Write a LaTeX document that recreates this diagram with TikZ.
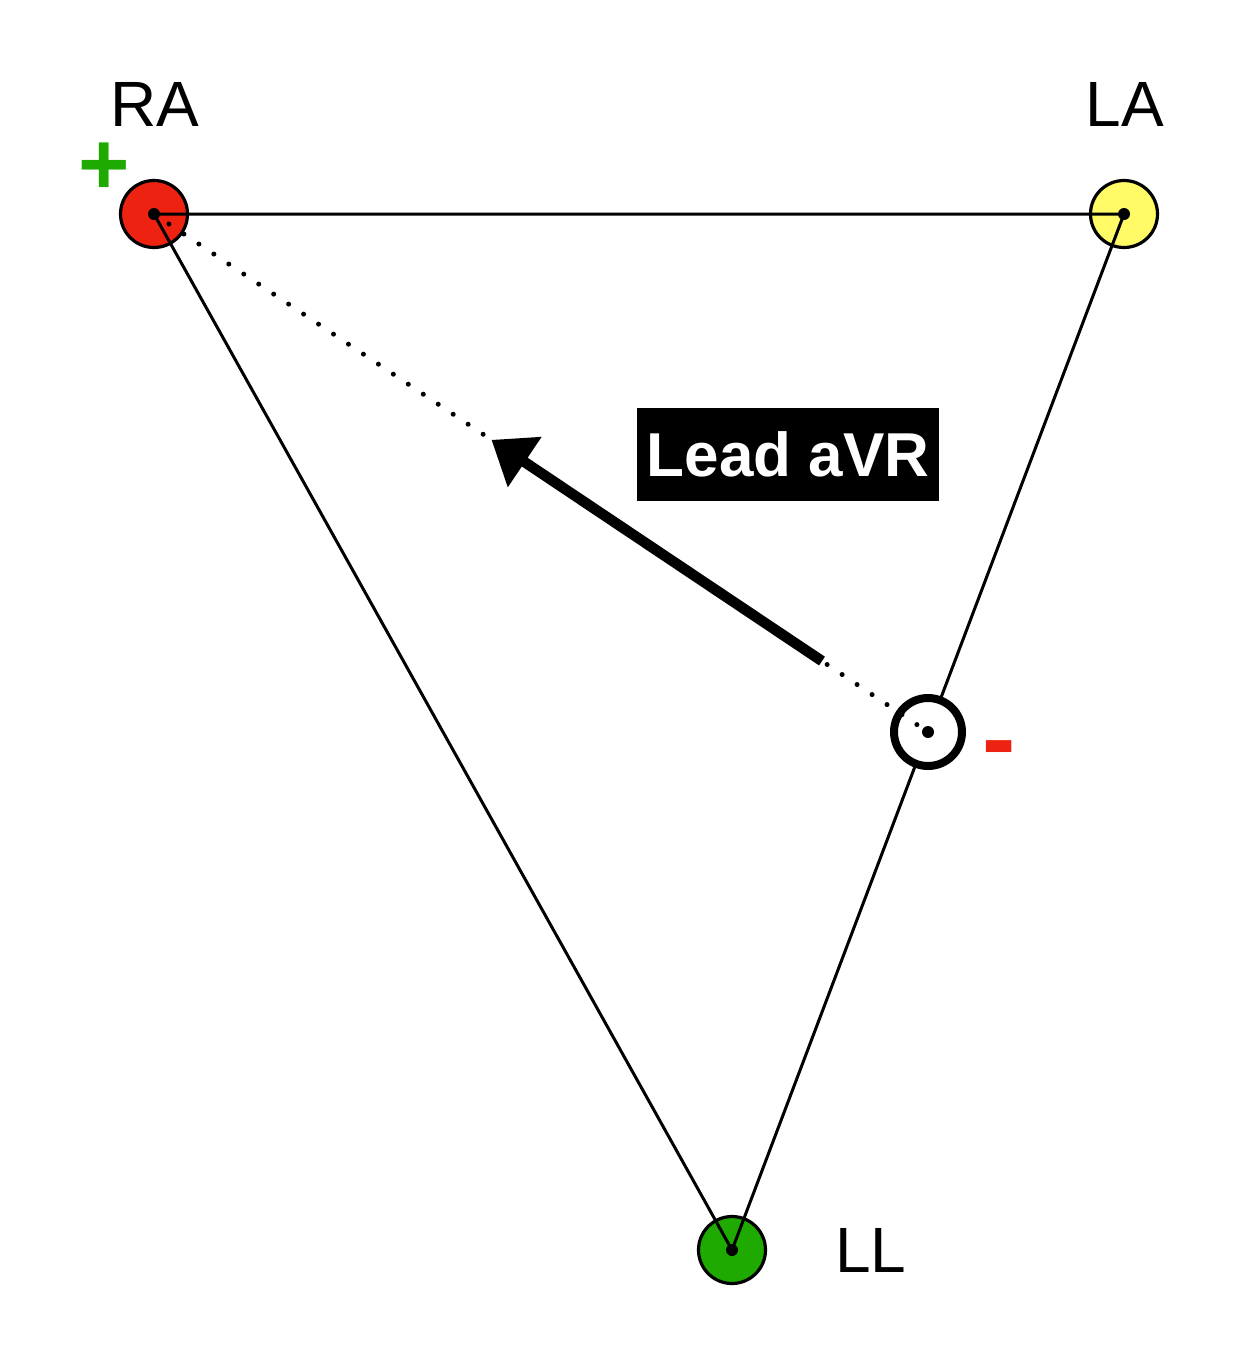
\documentclass[tikz,border=0pt]{standalone}
\usepackage{fontspec}
\setmainfont{Liberation Sans}
\usetikzlibrary{arrows.meta,calc}
\definecolor{LimbRed}{HTML}{EE2211}
\definecolor{LimbYellow}{HTML}{FFFA66}
\definecolor{LimbGreen}{HTML}{1EAA00}
\tikzset{
  electrode/.style={circle, draw=black, line width=3.2pt, minimum size=67pt, inner sep=0pt},
  refnode/.style={circle, draw=black, fill=white, line width=8pt, minimum size=68pt, inner sep=0pt},
  limblabel/.style={font=\fontsize{64}{64}\selectfont, inner sep=0pt},
  wire/.style={line width=3pt, draw=black},
  dotline/.style={line width=5pt, line cap=round, dash pattern=on 0pt off 18pt},
  leadarrow/.style={-{Triangle[length=40pt, width=58pt]}, line width=10.5pt},
  centerdot/.style={fill=black}
}
\begin{document}
\begin{tikzpicture}[x=1pt, y=-1pt]
\useasboundingbox (0,0) rectangle (1243,1366);
% electrodes
\node[electrode, fill=LimbRed] (ra) at (154,214) {};
\node[electrode, fill=LimbYellow] (la) at (1124,214) {};
\node[electrode, fill=LimbGreen] (ll) at (732,1250) {};
% triangle
\draw[wire] (ra.center) -- (la.center) -- (ll.center) -- cycle;
\node[refnode] (mid) at ($(la)!0.5!(ll)$) {};
% lead axis
\draw[dotline] (ra.center) -- (mid.center);
\coordinate (tail) at ($(ra)!0.863!(mid)$);
\coordinate (tip) at ($(ra)!0.436!(mid)$);
\draw[leadarrow] (tail) -- (tip);
\foreach \n in {ra,la,ll,mid}
  \fill[centerdot] (\n) circle (6pt);
% labels
\node[limblabel] (ralbl) at (155,104) {RA};
\node[limblabel] (lalbl) at (1125,104) {LA};
\node[limblabel] (lllbl) at (871,1250) {LL};
\node[fill=black, text=white, minimum width=302pt, minimum height=93pt, inner sep=0pt,
  font=\fontsize{62}{62}\selectfont\bfseries] (leadlbl) at (788,454) {Lead aVR};
\node[text=LimbGreen, inner sep=0pt, font=\fontsize{88}{88}\selectfont\bfseries] (plus) at (104,169) {+};
\node[text=LimbRed, inner sep=0pt, font=\fontsize{100}{100}\selectfont\bfseries] (minus) at (999,757) {-};
\end{tikzpicture}
\end{document}
